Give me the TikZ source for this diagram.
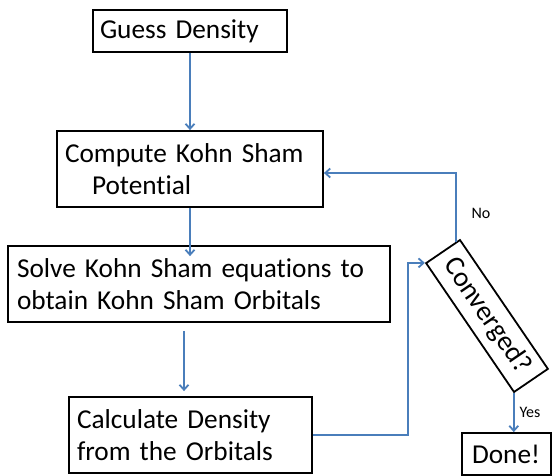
\documentclass[tikz,border=0pt]{standalone}
\usepackage{fontspec}
\setmainfont[Ligatures=NoCommon]{Carlito}
\usetikzlibrary{arrows.meta,calc}
\definecolor{lineblue}{RGB}{74,126,187}
\begin{document}
\begin{tikzpicture}[x=1pt,y=-1pt,
  box/.style={draw=black, line width=1.8pt, align=left, inner ysep=0pt,
    font=\fontsize{27.3}{32.5}\selectfont},
  arr/.style={draw=lineblue, line width=2pt, -{Straight Barb[length=5pt,width=9pt,line width=1.8pt]}},
  lbl/.style={font=\fontsize{16}{19}\selectfont, inner sep=0pt}]
\useasboundingbox (0,0) rectangle (553,475);
\node[box, inner xsep=7pt, text width=180pt, minimum height=42pt] (guess) at (190,31) {Guess Density};
\node[box, inner xsep=8pt, text width=250pt, minimum height=76pt] (compute) at (190,169) {Compute Kohn Sham\\\hspace*{27pt}Potential};
\node[box, inner xsep=9pt, text width=364pt, minimum height=76pt] (solve) at (199,284) {Solve Kohn Sham equations to\\obtain Kohn Sham Orbitals};
\node[box, inner xsep=8pt, text width=227pt, minimum height=76pt] (calc) at (190.5,435) {Calculate Density\\from the Orbitals};
\node[box, inner xsep=10pt, text width=69pt, minimum height=42pt] (done) at (506.5,454) {Done!};
\node[draw=black, line width=1.8pt, rotate=-55.7, minimum width=156pt, minimum height=41pt, inner sep=0pt,
  font=\fontsize{28}{33}\selectfont] (conv) at (487,316) {Converged?};
% connectors
\draw[arr] (guess.south) -- (compute.north);
\draw[arr] (compute.south) -- ([yshift=-11pt]compute.south |- solve.north);
\draw[arr] ([yshift=-8pt,xshift=-6.5pt]calc.north |- solve.south) -- ([yshift=5pt,xshift=-6.5pt]calc.north);
\coordinate (turn) at (408,435);
\draw[arr] (calc.east) -- (turn) |- (conv.south west);
\coordinate (ntop) at ($(conv.north west)!0.12!(conv.south west)$);
\draw[arr] (ntop) |- ([yshift=-4pt]compute.east);
\draw[arr] (conv.south east) -- (conv.south east |- done.north);
\node[lbl] (no) at (481,213) {No};
\node[lbl] (yes) at (530,412) {Yes};
\end{tikzpicture}
\end{document}
